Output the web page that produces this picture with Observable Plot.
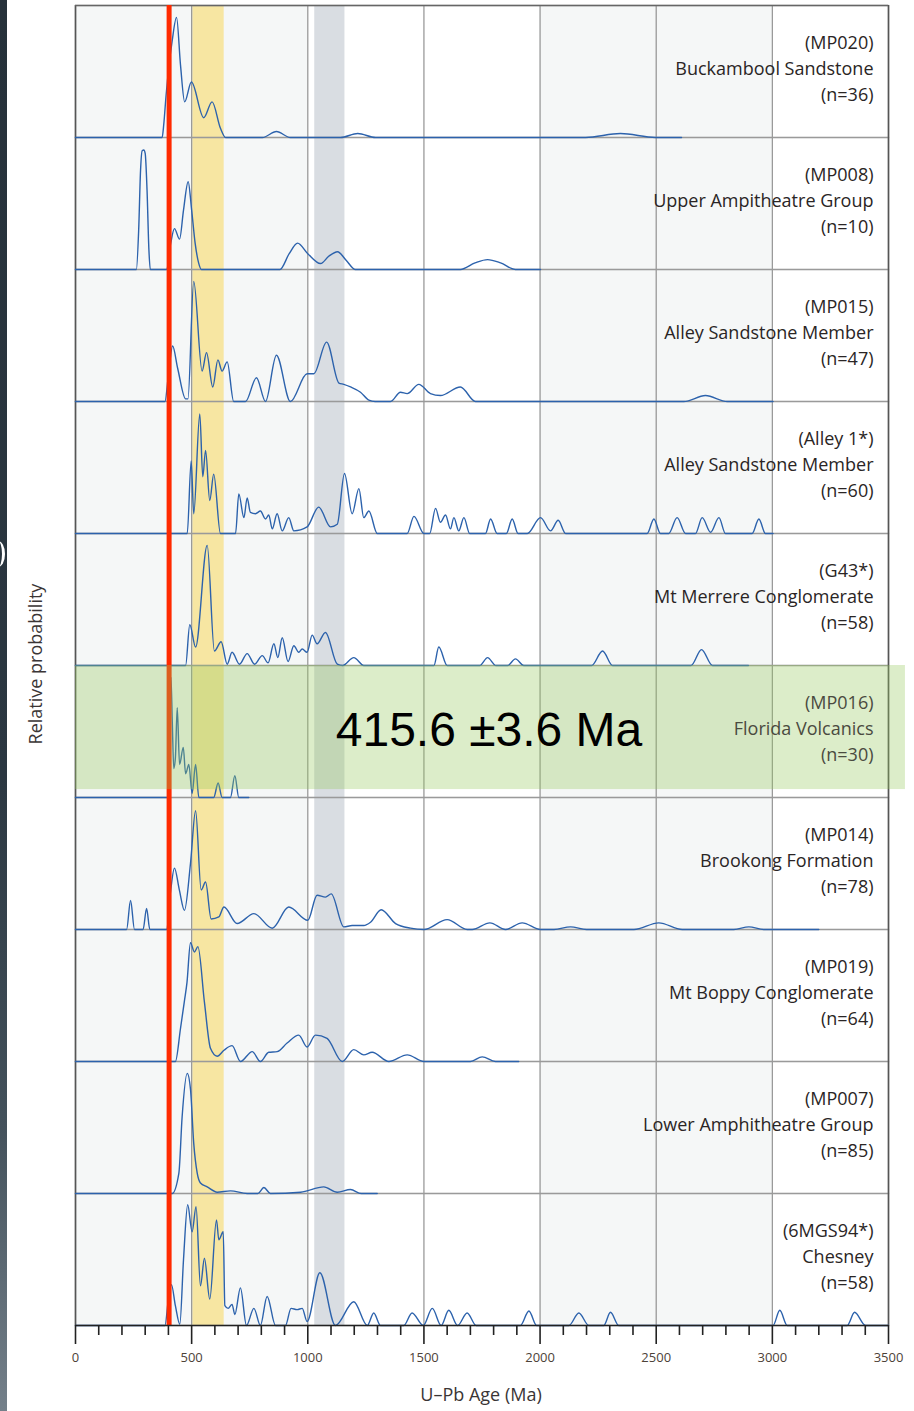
<!DOCTYPE html>
<html><head><meta charset="utf-8">
<script src="https://cdn.jsdelivr.net/npm/d3@7"></script>
<script src="https://cdn.jsdelivr.net/npm/@observablehq/plot@0.6"></script>
<style>
html,body{margin:0;padding:0;background:#fff;}
#wrap{position:relative;width:914px;height:1411px;overflow:hidden;font-family:"Open Sans",sans-serif;}
#chart{position:absolute;left:0;top:0;}
#strip{position:absolute;left:0;top:0;width:7px;height:1411px;background:linear-gradient(#26313a 0%,#2b3741 55%,#44525c 80%,#74808a 100%);}
#arc{position:absolute;left:-9px;top:541px;width:14px;height:26px;border-right:3px solid #fff;border-radius:0 50% 50% 0;box-sizing:border-box;}
#ylab{position:absolute;left:35px;top:664px;transform:translate(-50%,-50%) rotate(-90deg);white-space:nowrap;font-size:18px;color:#3a3535;}
#xlab{position:absolute;left:481px;top:1394px;transform:translate(-50%,-50%);white-space:nowrap;font-size:18px;color:#3a3535;}
#chart svg [aria-label="x-axis tick label"] text{fill:#4d4238;}
</style></head>
<body><div id="wrap"><div id="chart"></div><div id="strip"></div><div id="arc"></div>
<div id="ylab">Relative probability</div><div id="xlab">U–Pb Age (Ma)</div></div>
<script>
// ---- sample metadata ----
const ids = ["MP020","MP008","MP015","Alley 1*","G43*","MP016","MP014","MP019","MP007","6MGS94*"];
const names = ["Buckambool Sandstone","Upper Ampitheatre Group","Alley Sandstone Member","Alley Sandstone Member","Mt Merrere Conglomerate","Florida Volcanics","Brookong Formation","Mt Boppy Conglomerate","Lower Amphitheatre Group","Chesney"];
const counts = [36,10,47,60,58,30,78,64,85,58];

// ---- probability curves: [age (Ma), relative probability] ----
const MP020 = [[0,0],[373,0],[380,0.10],[390,0.32],[403,0.55],[416,0.73],[435,0.91],[452,0.55],[470,0.27],[499,0.42],[552,0.15],[588,0.27],[624,0.07],[646,0],[805,0],[865,0.045],[925,0],[1141,0],[1215,0.03],[1292,0],[2196,0],[2346,0.03],[2497,0],[2609,0]];
const MP008 = [[0,0],[262,0],[272,0.3],[280,0.75],[287,0.9],[294,0.905],[300,0.88],[308,0.6],[316,0.15],[322,0],[392,0],[410,0.2],[426,0.31],[448,0.23],[465,0.45],[485,0.665],[500,0.45],[515,0.2],[530,0.05],[542,0],[880,0],[920,0.12],[956,0.2],[1000,0.12],[1055,0.045],[1090,0.1],[1128,0.135],[1165,0.07],[1205,0],[1657,0],[1720,0.05],[1774,0.075],[1830,0.05],[1894,0],[2002,0]];
const MP015 = [[0,0],[385,0],[400,0.2],[418,0.42],[440,0.25],[474,0.02],[484,0.02],[509,0.91],[545,0.23],[564,0.37],[591,0.11],[613,0.315],[631,0.23],[653,0.30],[681,0],[732,0],[779,0.18],[818,0],[865,0.35],[925,0],[997,0.21],[1026,0.21],[1081,0.45],[1134,0.14],[1155,0.13],[1184,0.11],[1227,0.07],[1263,0.01],[1290,0],[1356,0],[1399,0.07],[1428,0.06],[1478,0.13],[1528,0.06],[1571,0.045],[1657,0.11],[1722,0],[2619,0],[2712,0.045],[2806,0],[3003,0]];
const ALLEY1 = [[0,0],[481,0],[498,0.55],[509,0.15],[535,0.905],[548,0.43],[560,0.63],[578,0.25],[595,0.45],[624,0],[689,0],[703,0.30],[725,0.12],[739,0.27],[753,0.16],[775,0.15],[796,0.17],[818,0.11],[832,0.14],[847,0.035],[868,0.15],[890,0.02],[918,0.12],[940,0.02],[997,0.05],[1047,0.2],[1098,0.05],[1127,0.07],[1158,0.455],[1191,0.15],[1220,0.34],[1241,0.12],[1263,0.17],[1299,0],[1428,0],[1457,0.13],[1500,0],[1525,0],[1550,0.19],[1571,0.085],[1593,0.14],[1614,0.035],[1629,0.12],[1650,0.02],[1672,0.12],[1697,0],[1765,0],[1787,0.11],[1815,0],[1855,0],[1880,0.11],[1905,0],[1945,0],[2002,0.12],[2045,0.02],[2078,0.10],[2110,0],[2461,0],[2490,0.11],[2518,0],[2554,0],[2590,0.12],[2626,0],[2669,0],[2698,0.12],[2734,0.01],[2770,0.12],[2798,0],[2913,0],[2942,0.11],[2970,0],[3003,0]];
const G43 = [[0,0],[474,0],[492,0.31],[517,0.14],[567,0.91],[598,0.11],[627,0.18],[653,0.01],[674,0.10],[706,0.01],[739,0.09],[771,0.01],[804,0.075],[829,0.02],[854,0.165],[871,0.06],[890,0.21],[915,0.03],[940,0.15],[961,0.10],[976,0.125],[997,0.10],[1019,0.23],[1040,0.165],[1076,0.25],[1127,0.01],[1150,0],[1198,0.06],[1241,0],[1543,0],[1564,0.14],[1600,0],[1740,0],[1774,0.06],[1810,0],[1860,0],[1894,0.05],[1930,0],[2222,0],[2269,0.11],[2312,0],[2650,0],[2695,0.12],[2742,0],[2897,0]];
const MP016 = [[0,0],[398,0],[404,0.35],[411,0.91],[417,0.55],[423,0.22],[430,0.3],[438,0.68],[448,0.25],[464,0.38],[474,0.18],[488,0.25],[502,0.03],[517,0.25],[531,0],[595,0],[614,0.11],[631,0],[667,0],[686,0.165],[703,0],[746,0]];
const MP014 = [[0,0],[220,0],[237,0.22],[254,0],[291,0],[306,0.16],[320,0],[392,0],[410,0.3],[426,0.465],[447,0.3],[469,0.145],[495,0.5],[517,0.90],[541,0.30],[560,0.36],[584,0.08],[617,0.095],[639,0.17],[696,0.045],[768,0.12],[847,0.01],[918,0.17],[1000,0.07],[1040,0.26],[1076,0.245],[1101,0.27],[1155,0.02],[1191,0.03],[1241,0.03],[1270,0.055],[1316,0.15],[1378,0.045],[1442,0.01],[1500,0],[1600,0.075],[1686,0],[1708,0],[1784,0.05],[1851,0],[1923,0.05],[2002,0],[2060,0],[2131,0.02],[2200,0],[2404,0],[2511,0.05],[2612,0],[2834,0],[2899,0.02],[2963,0],[3200,0]];
const MP019 = [[0,0],[430,0],[452,0.25],[469,0.46],[480,0.6],[495,0.90],[512,0.83],[527,0.87],[555,0.45],[581,0.10],[610,0.04],[639,0.085],[674,0.12],[710,0],[761,0.075],[796,0],[832,0.07],[868,0.075],[911,0.14],[961,0.2],[997,0.11],[1033,0.2],[1083,0.175],[1148,0],[1198,0.09],[1241,0.05],[1277,0.07],[1349,0],[1428,0.05],[1500,0],[1700,0],[1751,0.035],[1808,0],[1908,0]];
const MP007 = [[0,0],[416,0],[445,0.155],[459,0.58],[481,0.91],[495,0.79],[509,0.38],[524,0.155],[538,0.08],[567,0.05],[610,0.01],[667,0.02],[739,0],[785,0],[811,0.045],[839,0],[969,0.01],[1069,0.05],[1127,0.01],[1184,0.03],[1230,0],[1299,0]];
const MGS94 = [[0,0],[385,0],[400,0.2],[413,0.31],[430,0.15],[449,0.01],[465,0.5],[483,0.915],[502,0.71],[519,0.90],[538,0.30],[555,0.51],[578,0.2],[607,0.80],[617,0.65],[636,0.71],[643,0.15],[657,0.13],[674,0.16],[686,0.083],[710,0.285],[736,0],[768,0.13],[796,0],[825,0.22],[861,0],[904,0],[928,0.13],[954,0.12],[976,0.13],[997,0.03],[1052,0.40],[1119,0],[1198,0.18],[1256,0],[1284,0.095],[1313,0],[1413,0],[1449,0.095],[1497,0],[1536,0.13],[1574,0],[1607,0.115],[1645,0],[1686,0.095],[1725,0],[1915,0],[1952,0.11],[1985,0],[2124,0],[2167,0.095],[2210,0],[2274,0],[2303,0.10],[2339,0],[3003,0],[3032,0.115],[3064,0],[3322,0],[3354,0.10],[3401,0],[3500,0]];
const curves = [MP020, MP008, MP015, ALLEY1, G43, MP016, MP014, MP019, MP007, MGS94];

// ---- annotations ----
const shadeStart = [0, 2000];
const shadeEnd = [1000, 3000];
const yellowBand = [505, 640];
const greyBand = [1030, 1160];
const redAge = 403;
const gridAges = [500, 1000, 1500, 2000, 2500, 3000];
const majorTicks = [0, 500, 1000, 1500, 2000, 2500, 3000, 3500];
const minorTicks = d3.range(0, 3501, 100).filter(t => t % 500 !== 0);
const highlightSample = "MP016";
const highlightX = [0, 3573];
const highlightP = [0.06, 1];
const ageLabel = "415.6 ±3.6 Ma";

// ---- build tables ----
const samples = ids.map((id, i) => ({id, name: names[i], n: counts[i]}));
const curveData = curves.flatMap((c, i) => c.map(([age, p]) => ({sample: ids[i], age, p})));
const shades = shadeStart.map((s, i) => ({x1: s, x2: shadeEnd[i]}));

const chart = Plot.plot({
  width: 914, height: 1411,
  marginTop: 3, marginBottom: 85, marginLeft: 75, marginRight: 26,
  style: {fontFamily: "'Open Sans', sans-serif", background: "transparent"},
  x: {domain: [0, 3500], axis: null},
  y: {domain: [0, 1], axis: null},
  fy: {domain: ids, padding: 0, axis: null},
  marks: [
    Plot.rect(shades, {x1: "x1", x2: "x2", fill: "#f5f7f7"}),
    Plot.rect([yellowBand], {x1: d => d[0], x2: d => d[1], fill: "#f7e6a2"}),
    Plot.rect([greyBand], {x1: d => d[0], x2: d => d[1], fill: "#d9dde2"}),
    Plot.ruleX(gridAges, {stroke: "#9a9a9a", strokeWidth: 1.3}),
    Plot.frame({stroke: "#9a9a9a", strokeWidth: 1.3}),
    Plot.ruleX([0, 3500], {stroke: "#555", strokeWidth: 1.6}),
    Plot.ruleY([{id: ids[0], v: 1}], {fy: "id", y: "v", stroke: "#666", strokeWidth: 1.6}),
    Plot.line(curveData, {fy: "sample", x: "age", y: "p", stroke: "#2c62ac", strokeWidth: 1.4, curve: "monotone-x"}),
    Plot.ruleX([redAge], {stroke: "#ff2a00", strokeWidth: 5}),
    Plot.ruleY([{id: ids[ids.length - 1], v: 0}], {fy: "id", y: "v", stroke: "#222", strokeWidth: 1.6}),
    Plot.rect([{id: highlightSample}], {fy: "id", x1: highlightX[0], x2: highlightX[1], y1: highlightP[0], y2: highlightP[1], fill: "rgb(150,200,90)", fillOpacity: 0.33}),
    Plot.text(samples, {fy: "id", frameAnchor: "right", textAnchor: "end", dx: -15, dy: -4.5, lineHeight: 1.45,
      fontSize: 18, fill: d => d.id === highlightSample ? "#4a4a40" : "#2a2525", text: d => `(${d.id})\n${d.name}\n(n=${d.n})`}),
    Plot.text([{id: highlightSample, t: ageLabel}], {fy: "id", text: "t", frameAnchor: "middle", dx: 7, dy: -1,
      fontSize: 48, fill: "#000", fontFamily: "'Liberation Sans', Arial, sans-serif"}),
    Plot.axisX(majorTicks, {anchor: "bottom", tickSize: 19, tickPadding: 8, stroke: "#222", strokeWidth: 1.6,
      fill: "#4d4238", fontSize: 13, label: null, tickFormat: d => String(d)}),
    Plot.axisX(minorTicks, {anchor: "bottom", tickSize: 10, stroke: "#222", strokeWidth: 1.6, fill: null, label: null})
  ]
});
document.getElementById("chart").appendChild(chart);
</script>
</body></html>
